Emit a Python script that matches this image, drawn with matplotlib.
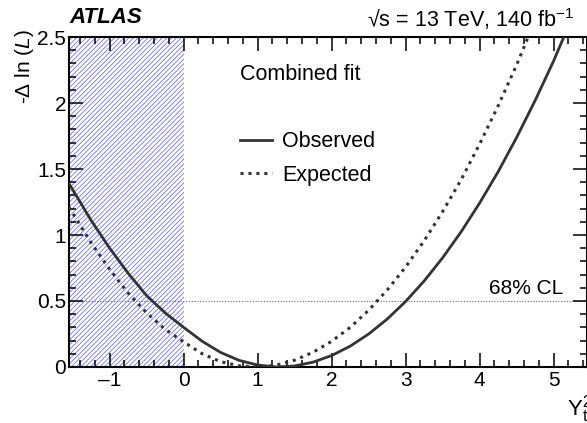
import numpy as np
import matplotlib
matplotlib.use("Agg")
import matplotlib.pyplot as plt
from matplotlib.ticker import MultipleLocator, FuncFormatter

plt.rcParams['font.family'] = ['Liberation Sans', 'DejaVu Sans']
plt.rcParams['mathtext.fontset'] = 'custom'
plt.rcParams['mathtext.rm'] = 'Liberation Sans'
plt.rcParams['mathtext.it'] = 'Liberation Sans:italic'
plt.rcParams['hatch.linewidth'] = 0.5

# values
yt2 = [-1.55, -1.25, -1.0, -0.75, -0.5, -0.25, 0.0, 0.25, 0.5, 0.75, 1.0, 1.25, 1.5,
       1.75, 2.0, 2.25, 2.5, 2.75, 3.0, 3.25, 3.5, 3.75, 4.0, 4.25, 4.5, 4.75, 5.0, 5.25]
observed = [1.39, 1.11, 0.90, 0.71, 0.54, 0.41, 0.30, 0.195, 0.11, 0.05, 0.015, 0.0, 0.008,
            0.037, 0.087, 0.158, 0.25, 0.363, 0.497, 0.652, 0.828, 1.025, 1.243, 1.48,
            1.74, 2.02, 2.32, 2.65]
expected = [1.21, 0.94, 0.74, 0.56, 0.41, 0.285, 0.19, 0.10, 0.04, 0.009, 0.0, 0.014, 0.052,
            0.112, 0.195, 0.30, 0.43, 0.583, 0.758, 0.957, 1.178, 1.42, 1.69, 1.98,
            2.29, 2.63, 2.99, 3.4]
excluded_lo, excluded_hi = -1.55, 0.0
cl68 = 0.5

fig = plt.figure(figsize=(5.87, 4.23), dpi=100)
ax = fig.add_axes([0.1175, 0.1324, 0.8825, 0.7801])

ax.axvspan(excluded_lo, excluded_hi, facecolor='none', edgecolor='#5a5aff',
           hatch='///////', linewidth=0, zorder=0)
ax.axhline(cl68, color='#666666', lw=0.8, ls=(0, (1, 1.5)), zorder=1)

ax.plot(yt2, observed, color='#333333', lw=2.0, label='Observed', zorder=3)
ax.plot(yt2, expected, color='#333333', lw=2.2, ls=(0, (1, 1.6)), label='Expected', zorder=3)

ax.set_xlim(-1.55, 5.45)
ax.set_ylim(0, 2.5)

ax.xaxis.set_major_locator(MultipleLocator(1))
ax.xaxis.set_minor_locator(MultipleLocator(0.2))
ax.yaxis.set_major_locator(MultipleLocator(0.5))
ax.yaxis.set_minor_locator(MultipleLocator(0.1))
ax.yaxis.set_major_formatter(FuncFormatter(lambda v, p: '%g' % v))
ax.xaxis.set_major_formatter(FuncFormatter(lambda v, p: ('%g' % v).replace('-', '\u2013')))
ax.tick_params(which='both', direction='in', top=True, right=True, labelsize=15, width=1.1)
ax.tick_params(which='major', length=10)
ax.tick_params(which='minor', length=5)
ax.tick_params(axis='y', which='major', pad=2)
ax.tick_params(axis='x', which='major', pad=3)
for sp in ax.spines.values():
    sp.set_linewidth(1.5)

fig.text(0.041, 0.931, r'-$\Delta$ ln ($L$)', rotation=90, ha='center', va='top', fontsize=15)
fig.text(1.008, 0.017, r'$\mathrm{Y}_\mathrm{t}^2$', ha='right', va='baseline', fontsize=16)

fig.text(0.119, 0.945, 'ATLAS', fontsize=16, fontweight='bold', fontstyle='italic',
         va='baseline')
fig.text(0.625, 0.936, '\u221as = 13 TeV, 140 fb$^{-1}$', fontsize=15.5,
         ha='left', va='baseline')

ax.text(0.33, 0.885, 'Combined fit', transform=ax.transAxes, fontsize=15.5, va='center')
ax.legend(loc='upper left', bbox_to_anchor=(0.33, 0.715), frameon=False, fontsize=15.5,
          handlelength=1.5, handletextpad=0.45, labelspacing=0.6, borderaxespad=0,
          borderpad=0)

ax.text(0.954, cl68 + 0.05, '68% CL', transform=ax.get_yaxis_transform(), fontsize=15,
        ha='right', va='baseline')

fig.savefig('out.png', dpi=100)
